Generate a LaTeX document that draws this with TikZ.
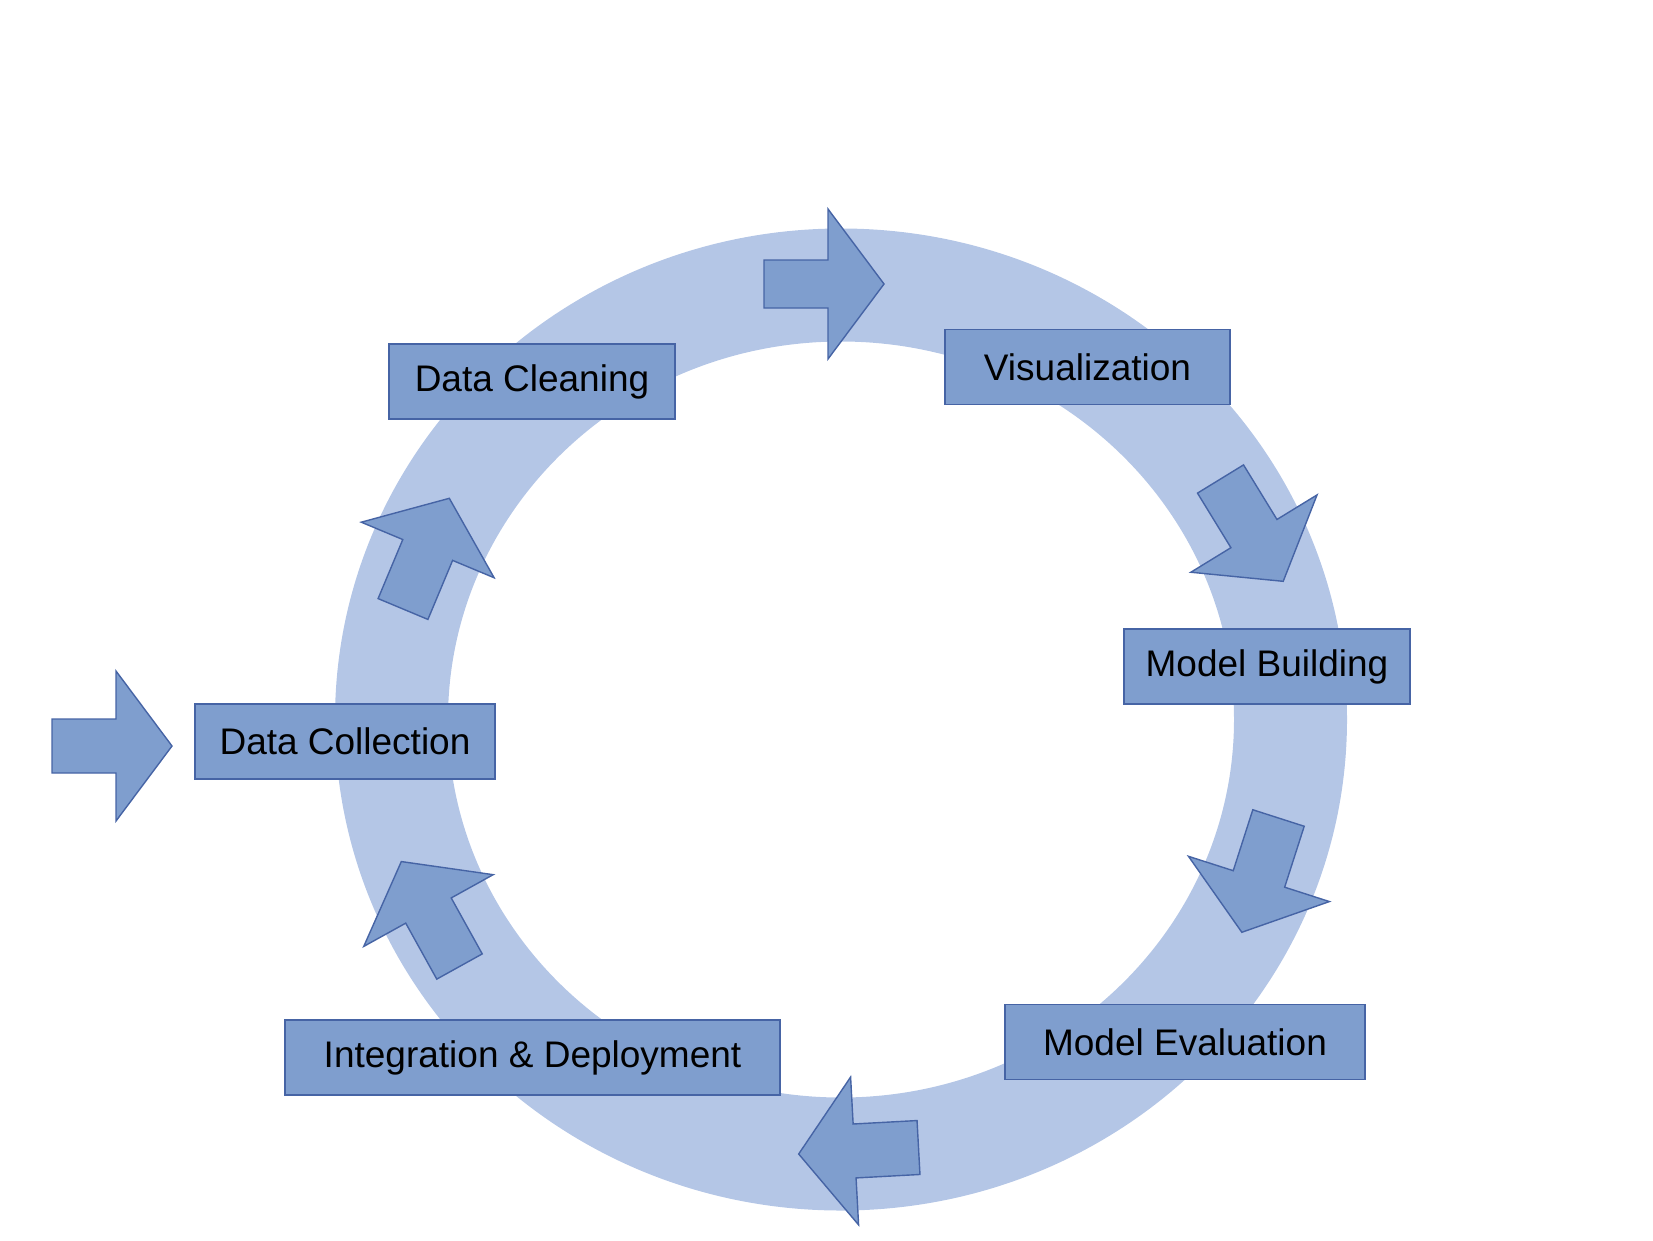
\documentclass[tikz,border=0pt]{standalone}
\usepackage{fontspec}
\setmainfont{Liberation Sans}
\definecolor{ringcol}{RGB}{180,198,230}
\definecolor{boxfill}{RGB}{127,158,206}
\definecolor{boxline}{RGB}{70,100,165}
\tikzset{
  stagebox/.style={draw=boxline, fill=boxfill, line width=1.6pt, minimum height=75pt, inner sep=0pt,
    font=\fontsize{37}{44}\selectfont, text=black},
  blockarrow/.style={draw=boxline, fill=boxfill, line width=1.4pt, line join=miter},
}
\newcommand{\blockarr}[5]{% x, y, angle, shaft half width, head half width
  \begin{scope}[shift={(#1,#2)}, rotate=#3]
    \draw[blockarrow] (0,-#4) -- (64,-#4) -- (64,-#5) -- (120,0) -- (64,#5) -- (64,#4) -- (0,#4) -- cycle;
  \end{scope}}
\begin{document}
\begin{tikzpicture}[x=1pt,y=-1pt]
\useasboundingbox (0,0) rectangle (1653,1240);
% ring
\fill[ringcol, even odd rule] (841,719.5) ellipse [x radius=506pt, y radius=491pt]
  (841,719.5) ellipse [x radius=393pt, y radius=378pt];
% arrows
\blockarr{52}{746}{0}{27}{75}
\blockarr{764}{284}{0}{24}{75}
\blockarr{1220.5}{479}{-58.5}{27}{74}
\blockarr{1278.5}{818}{-107.8}{27}{74}
\blockarr{918.5}{1147.5}{183.1}{27}{74}
\blockarr{459.5}{966.5}{119}{26}{74}
\blockarr{403}{609}{67.3}{27}{72}
% boxes
\node[stagebox, minimum width=286pt] (clean) at (532,381.5) {Data Cleaning};
\node[stagebox, minimum width=285pt] (vis) at (1087.5,367) {Visualization};
\node[stagebox, minimum width=286pt] (build) at (1267,666.5) {Model Building};
\node[stagebox, minimum width=360pt] (eval) at (1185,1042) {Model Evaluation};
\node[stagebox, minimum width=495pt] (deploy) at (532.5,1057.5) {Integration \& Deployment};
\node[stagebox, minimum width=300pt] (collect) at (345,741.5) {Data Collection};
\end{tikzpicture}
\end{document}
